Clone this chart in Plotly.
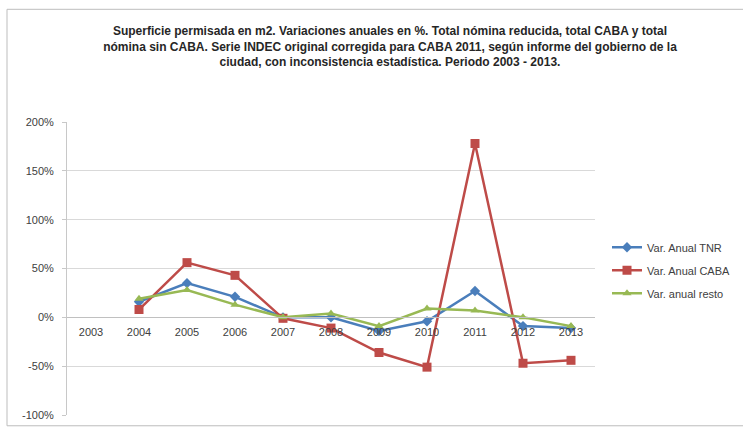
import plotly.graph_objects as go

# Annual variation (%) of permitted construction area, 2003-2013
years = ["2003", "2004", "2005", "2006", "2007", "2008", "2009", "2010", "2011", "2012", "2013"]
var_tnr = [None, 16, 35, 21, 0, 0, -14, -4, 27, -9, -11]
var_caba = [None, 8, 56, 43, -1, -11, -36, -51, 178, -47, -44]
var_resto = [None, 19, 28, 13, 0, 4, -9, 9, 7, 0, -9]

y_ticks = [-100, -50, 0, 50, 100, 150, 200]
y_tick_labels = ["-100%", "-50%", "0%", "50%", "100%", "150%", "200%"]

title_text = ("<b>Superficie permisada en m2. Variaciones anuales en %. Total nómina reducida, total CABA y total<br>"
              "nómina sin CABA. Serie INDEC original corregida para CABA 2011, según informe del gobierno de la<br>"
              "ciudad, con inconsistencia estadística. Periodo 2003 - 2013.</b>")

FONT = "Liberation Sans"

# canvas geometry (pixels)
W, H = 743, 427
L, R, T, B = 67, 595, 122, 421

fig = go.Figure()
series = [
    ("Var. Anual TNR", var_tnr, "#4a7ebb", "diamond", 8),
    ("Var. Anual CABA", var_caba, "#be4b48", "square", 9),
    ("Var. anual resto", var_resto, "#98b954", "triangle-up", 8),
]
for name, vals, color, sym, size in series:
    fig.add_trace(go.Scatter(
        x=years, y=vals, name=name, mode="lines+markers",
        line=dict(color=color, width=2.5),
        marker=dict(symbol=sym, size=size, color=color),
        legendgroup=name, connectgaps=False,
    ))

pw, ph = R - L, B - T
fig.update_layout(
    width=W, height=H,
    margin=dict(l=L, r=W - R, t=T, b=H - B, pad=0),
    paper_bgcolor="white", plot_bgcolor="white",
    showlegend=True,
    title=dict(text=title_text, x=390 / W, xanchor="center", y=1 - 35 / H, yanchor="top",
               font=dict(family=FONT, size=12, color="#262626")),
    legend=dict(x=(607 - L) / pw, xanchor="left", y=(B - 235) / ph, yanchor="top",
                font=dict(family=FONT, size=11, color="#404040"),
                itemwidth=30, tracegroupgap=4, bgcolor="rgba(0,0,0,0)"),
    xaxis=dict(type="category", range=[-0.5, 10.5], anchor="free", position=1 / 3,
               showgrid=False, showline=True, linecolor="#c0c0c0", linewidth=1,
               ticks="", ticklabelstandoff=4,
               tickfont=dict(family=FONT, size=11, color="#404040"),
               fixedrange=True),
    yaxis=dict(range=[-100, 200], tickvals=y_ticks, ticktext=y_tick_labels,
               showgrid=True, gridcolor="#d9d9d9", gridwidth=1, zeroline=False,
               showline=True, linecolor="#c8c8c8", linewidth=1,
               ticks="outside", ticklen=4, tickcolor="#c8c8c8", ticklabelstandoff=6,
               tickfont=dict(family=FONT, size=11, color="#404040"),
               fixedrange=True),
    shapes=[dict(type="rect", xref="paper", yref="paper",
                 x0=(7 - L) / pw, x1=(W + 5 - L) / pw,
                 y0=(B - (H + 5)) / ph, y1=(B - 7) / ph,
                 line=dict(color="#bdbdbd", width=1), fillcolor="rgba(0,0,0,0)",
                 layer="below")],
)

fig.write_html("out.html")
